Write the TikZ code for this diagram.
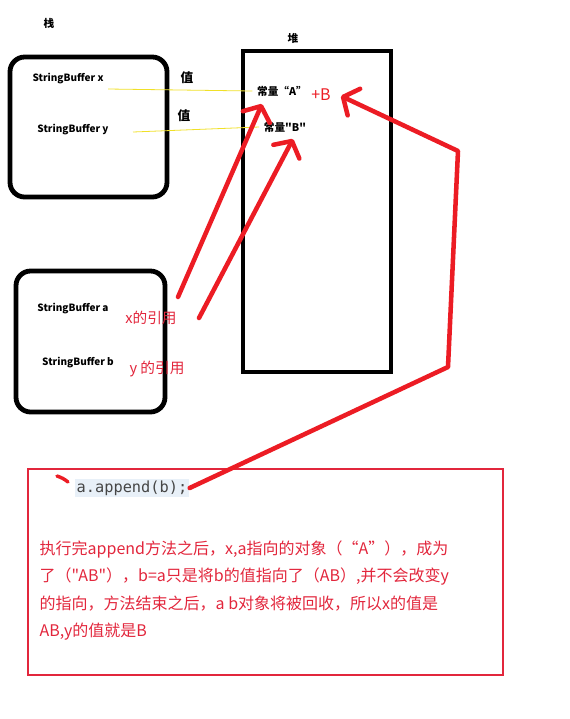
\documentclass[tikz,border=0pt]{standalone}
\usepackage{fontspec}
\setmainfont[Ligatures=TeXOff]{Noto Sans CJK SC}
\setmonofont{DejaVu Sans Mono}
\usetikzlibrary{arrows.meta}
\definecolor{paintred}{RGB}{236,28,36}
\definecolor{notered}{RGB}{226,38,60}
\definecolor{codebg}{RGB}{232,240,248}
\definecolor{codegray}{RGB}{70,70,70}
\definecolor{yline}{RGB}{240,224,40}
\tikzset{
  box/.style={draw=black, line width=3.6pt, rounded corners=11pt},
  heapbox/.style={draw=black, line width=3.6pt},
  varlbl/.style={font=\fontsize{7.5}{9}\selectfont\bfseries},
  titlelbl/.style={font=\fontsize{8}{10}\selectfont\bfseries},
  reflbl/.style={text=notered, font=\fontsize{11}{13}\selectfont},
  valline/.style={draw=yline, line width=0.6pt},
  refarrow/.style={draw=paintred, line width=3.4pt, line cap=round, line join=round,
    -{Straight Barb[length=9pt, width=22pt, line width=3.4pt, round]}}
}
\begin{document}
\begin{tikzpicture}[x=0.75pt, y=-0.75pt]
            \useasboundingbox (0,0) rectangle (569,719);

            % stack
            \node[titlelbl] (stack) at (49,23) {栈};
            \draw[box] (10,57) rectangle (167,197);
            \node[varlbl] (sbx) at (68,79) {StringBuffer x};
            \node[varlbl] (sby) at (73,130) {StringBuffer y};

            \draw[box] (16,271) rectangle (165,412);
            \node[varlbl] (sba) at (73,309) {StringBuffer a};
            \node[varlbl] (sbb) at (78,363) {StringBuffer b};

            % heap
            \node[titlelbl] (heap) at (293,38) {堆};
            \draw[heapbox] (243,51) rectangle (391,372);
            \node[titlelbl] (constA) at (282,91) {常量“A”};
            \node[titlelbl] (constB) at (285,127) {常量"B"};
            \node[text=paintred, font=\fontsize{12}{14}\selectfont] (plusB) at (321,95) {+B};

            % values
            \node[titlelbl, font=\fontsize{9.5}{11}\selectfont\bfseries] (valx) at (187,78) {值};
            \node[titlelbl, font=\fontsize{9.5}{11}\selectfont\bfseries] (valy) at (184,116) {值};
            \draw[valline] (sbx.east) ++(0,10) -- (constA.west);
            \draw[valline] (133,132) -- (constB.west);

            % references
            \node[reflbl] (xref) at (151,318) {x的引用};
            \node[reflbl] (yref) at (157,369) {y 的引用};

            \coordinate (xtail) at (178,297);
            \coordinate (Atip) at (262,104);
            \coordinate (ytail) at (199,318);
            \coordinate (Btip) at (293,139);
            \draw[refarrow] (xtail) -- (Atip);
            \draw[refarrow] (ytail) -- (Btip);

            % note
            \draw[draw=notered, line width=0.8pt] (28,469) rectangle (503,675);
            \node[fill=codebg, text=codegray, inner sep=1.5pt, font=\ttfamily\fontsize{11.5}{13}\selectfont] (code) at (132,488) {a.append(b);};
            \draw[draw=paintred, line width=2.6pt, line cap=round] (57,476) to[bend left=10] (68,482);

            \coordinate (bend1) at (448,367);
            \coordinate (bend2) at (458,151);
            \coordinate (Btop) at (341,96);
            \draw[refarrow] (code.east) -- (bend1) -- (bend2) -- (Btop);

            \node[anchor=north west, align=left, text=notered, font=\fontsize{12}{20.5}\selectfont] (note) at (35,536)
            {执行完append方法之后，x,a指向的对象（“A”），成为\\
             了（"AB"），b=a只是将b的值指向了（AB）,并不会改变y\\
             的指向，方法结束之后，a b对象将被回收，所以x的值是\\
             AB,y的值就是B};
        \end{tikzpicture}
\end{document}
